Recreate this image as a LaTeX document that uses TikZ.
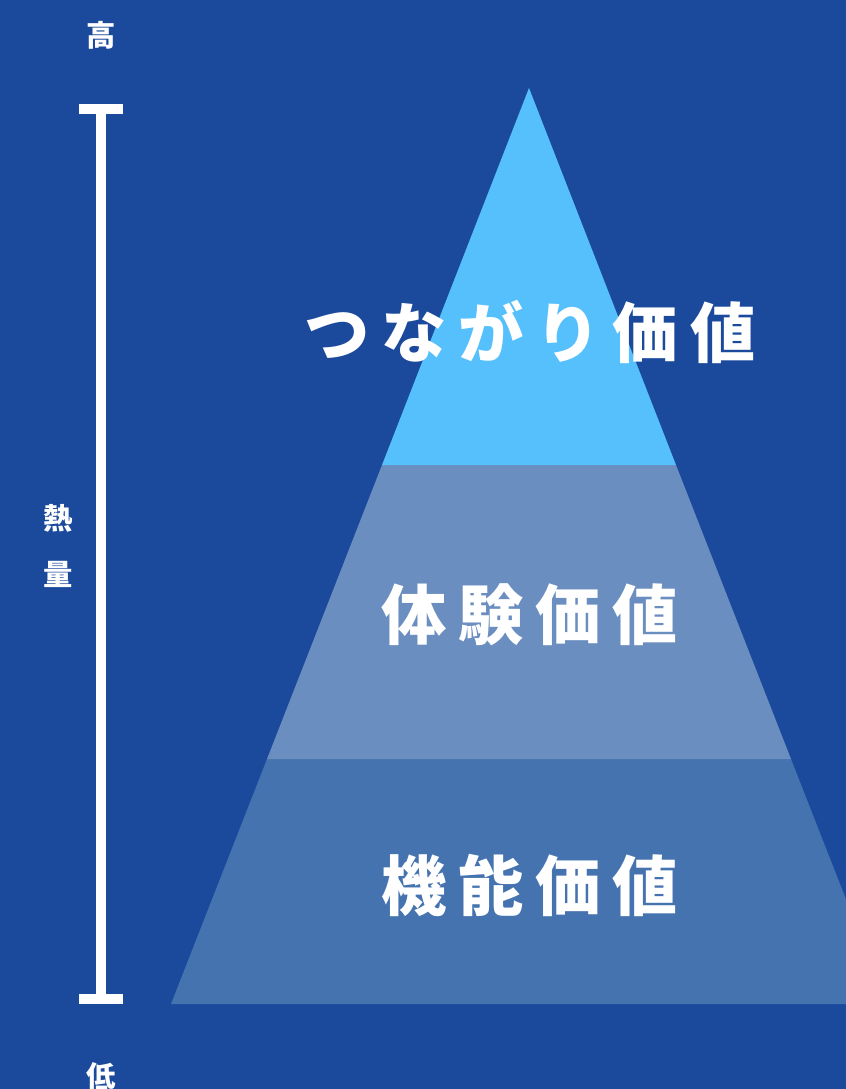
\documentclass[tikz,border=0pt]{standalone}
\usepackage{fontspec}
\newfontfamily\jpfont{Noto Sans CJK JP}
\definecolor{bgblue}{HTML}{1B4A9C}
\definecolor{topblue}{HTML}{56C0FD}
\definecolor{midblue}{HTML}{6B8EC0}
\definecolor{lowblue}{HTML}{4573B0}
\tikzset{
  tier/.style={font=\jpfont\bfseries\fontsize{49}{49}\selectfont\addfontfeature{LetterSpace=18}, text=white, inner sep=0pt},
  side/.style={font=\jpfont\bfseries\fontsize{22}{22}\selectfont, text=white, inner sep=0pt}
}
\begin{document}
\begin{tikzpicture}[x=0.75pt, y=-0.75pt]
\fill[bgblue] (0,0) rectangle (846,1089);
\useasboundingbox (0,0) rectangle (846,1089);

% pyramid
\coordinate (apex) at (529,88);
\coordinate (l1) at (382,465);
\coordinate (r1) at (676,465);
\coordinate (l2) at (267,759);
\coordinate (r2) at (791,759);
\coordinate (l3) at (171,1004);
\coordinate (r3) at (887,1004);

\fill[lowblue] (l2) -- (r2) -- (r3) -- (l3) -- cycle;
\fill[midblue] (l1) -- (r1) -- (r2) -- (l2) -- cycle;
\fill[topblue] (apex) -- (r1) -- (l1) -- cycle;

\node[tier] (link) at (530,332) {つながり価値};
\node[tier] (exp) at (530,615) {体験価値};
\node[tier] (func) at (530,885) {機能価値};

% scale
\coordinate (hi) at (101,109);
\coordinate (lo) at (101,999);
\draw[white, line width=7.5pt] (hi) -- (lo);
\draw[white, line width=7.5pt] ([xshift=-16.5pt]hi) -- ([xshift=16.5pt]hi);
\draw[white, line width=7.5pt] ([xshift=-16.5pt]lo) -- ([xshift=16.5pt]lo);

\node[side] (high) at (101,35) {高};
\node[side] (heat1) at (58,518) {熱};
\node[side] (heat2) at (58,574) {量};
\node[side] (low) at (101,1076) {低};
\end{tikzpicture}
\end{document}
